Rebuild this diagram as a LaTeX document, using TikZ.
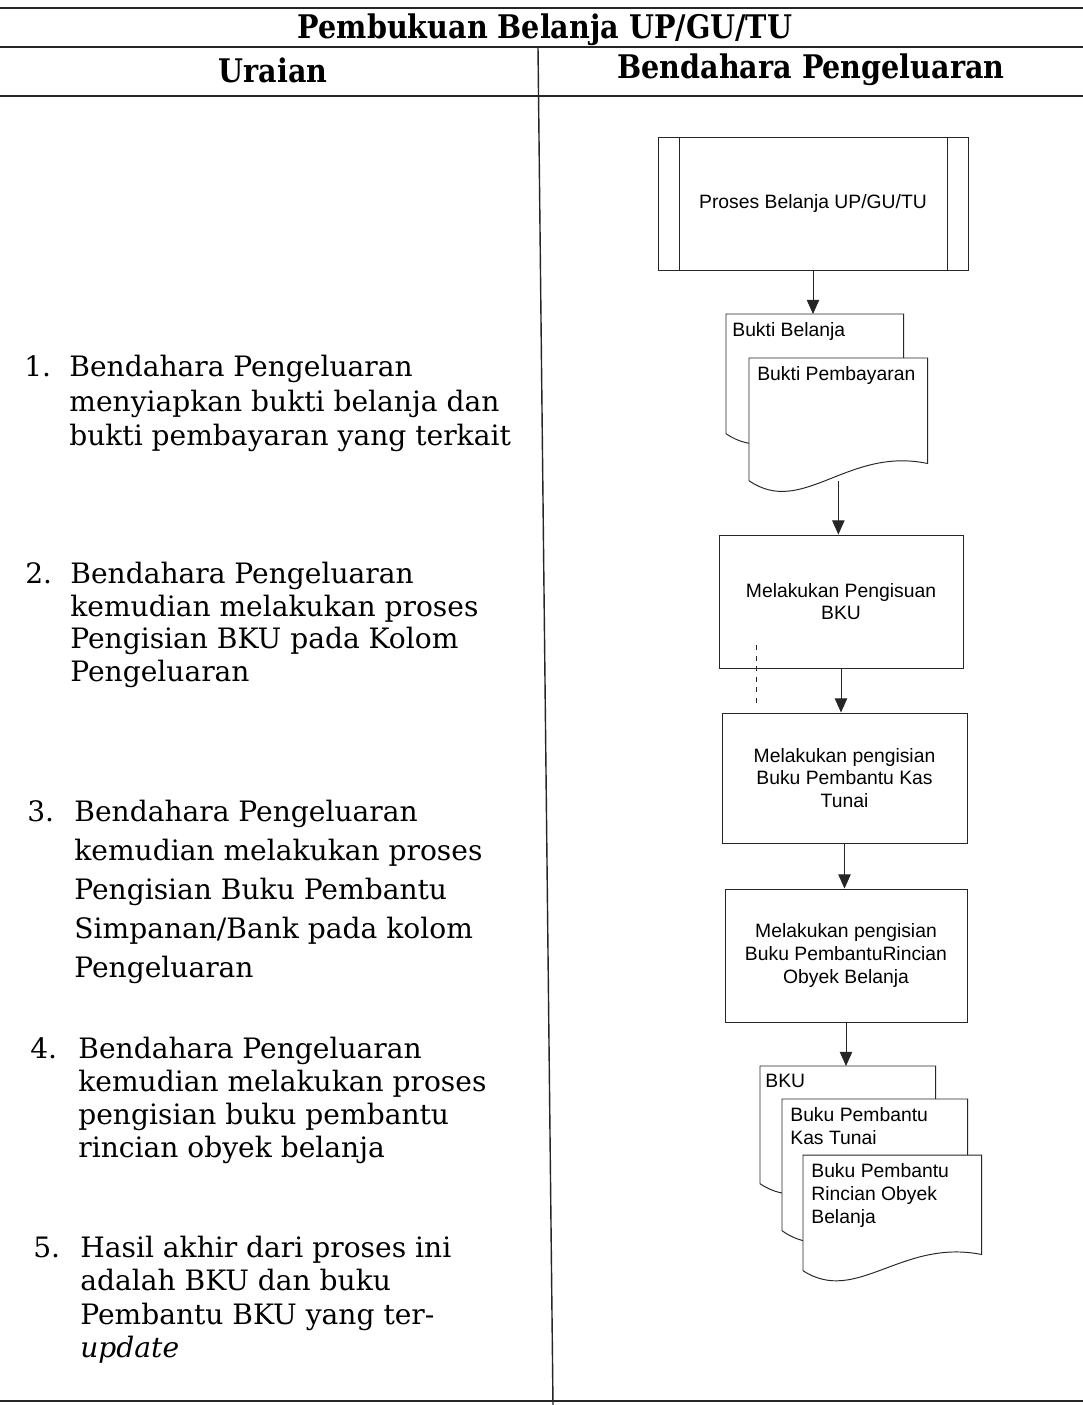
\documentclass[tikz,border=0pt]{standalone}
\usepackage{fontspec}
\setmainfont{DejaVu Serif}
\newfontfamily\hdrfont{DejaVu Serif}[FakeStretch=0.88]
\newfontfamily\chartfont{Liberation Sans}
\usetikzlibrary{arrows.meta,calc}

\tikzset{
  rule/.style={line width=1.1pt, black!85},
  divider/.style={line width=0.8pt, black!85},
  hdr/.style={inner sep=0, font=\hdrfont\bfseries\fontsize{18.5}{22}\selectfont},
  itemnum/.style={anchor=base west, inner sep=0, font=\fontsize{16}{19}\selectfont},
  itemtext/.style={anchor=north west, inner sep=0, align=left},
  chart/.style={draw=black!85, line width=0.55pt},
  chartfontstyle/.style={font=\chartfont\fontsize{11}{13}\selectfont},
  procbox/.style={chart, fill=white, minimum width=6.2cm, minimum height=2.66cm, inner sep=0, chartfontstyle},
  actbox/.style={chart, fill=white, inner sep=0, align=center, chartfontstyle},
  docframe/.style={anchor=north west, inner sep=0, draw=none},
  docline/.style={chart, fill=white},
  doclabel/.style={anchor=north west, inner sep=0, align=left, chartfontstyle},
  arr/.style={chart, -{Triangle[length=8pt,width=7pt]}},
}

% document symbol: rectangle with a wavy lower edge, drawn on a named frame node
\newcommand\docshape[1]{%
  \path[docline] let \p1=(#1.north west), \p2=(#1.south east),
      \n1={\x2-\x1}, \n2={\y1-\y2} in
    (\x1,\y1) -- (\x2,\y1) -- (\x2,{\y2+0.14*\n2})
    .. controls ({\x1+0.55*\n1},{\y2+0.28*\n2}) and ({\x1+0.3*\n1},{\y2-0.3*\n2}) .. (\x1,\y2)
    -- cycle;}

\begin{document}
\begin{tikzpicture}
\fill[white] (0,0) rectangle (21.66,-28.1);
\useasboundingbox (0,0) rectangle (21.66,-28.1);

% table rules
\draw[rule] (0,-0.16) -- (21.66,-0.16);
\draw[rule] (0,-0.94) -- (21.66,-0.94);
\draw[rule] (0,-1.92) -- (21.66,-1.92);
\draw[rule] (0,-28.02) -- (21.66,-28.02);
\draw[divider] (10.76,-0.94) -- (11.06,-28.1);

% headings
\node[hdr] (title) at (10.9,-0.6) {Pembukuan Belanja UP/GU/TU};
\node[hdr] (colA) at (5.46,-1.41) {Uraian};
\node[hdr] (colB) at (16.22,-1.39) {Bendahara Pengeluaran};

% description column
\node[itemnum] (n1) at (0.48,-7.52) {1.};
\node[itemtext, font=\fontsize{16}{19.8}\selectfont] (t1) at (1.38,-7.09)
  {Bendahara Pengeluaran\\menyiapkan bukti belanja dan\\bukti pembayaran yang terkait};

\node[itemnum] (n2) at (0.50,-11.66) {2.};
\node[itemtext, font=\fontsize{16}{18.7}\selectfont] (t2) at (1.40,-11.23)
  {Bendahara Pengeluaran\\kemudian melakukan proses\\Pengisian BKU pada Kolom\\Pengeluaran};

\node[itemnum] (n3) at (0.54,-16.42) {3.};
\node[itemtext, font=\fontsize{16}{22.3}\selectfont] (t3) at (1.48,-15.99)
  {Bendahara Pengeluaran\\kemudian melakukan proses\\Pengisian Buku Pembantu\\Simpanan/Bank pada kolom\\Pengeluaran};

\node[itemnum] (n4) at (0.60,-21.16) {4.};
\node[itemtext, font=\fontsize{16}{18.9}\selectfont] (t4) at (1.56,-20.73)
  {Bendahara Pengeluaran\\kemudian melakukan proses\\pengisian buku pembantu\\rincian obyek belanja};

\node[itemnum] (n5) at (0.66,-25.14) {5.};
\node[itemtext, font=\fontsize{16}{19.1}\selectfont] (t5) at (1.60,-24.71)
  {Hasil akhir dari proses ini\\adalah BKU dan buku\\Pembantu BKU yang ter-\\\textit{update}};

% flowchart column
\node[procbox] (proc) at (16.26,-4.07) {Proses Belanja UP/GU/TU};
\draw[chart] ([xshift=0.44cm]proc.north west) -- ([xshift=0.44cm]proc.south west);
\draw[chart] ([xshift=-0.42cm]proc.north east) -- ([xshift=-0.42cm]proc.south east);

\node[docframe, minimum width=3.54cm, minimum height=2.38cm] (d1) at (14.52,-6.28) {};
\docshape{d1}
\node[doclabel] (d1t) at ([xshift=0.12cm,yshift=-0.16cm]d1.north west) {Bukti Belanja};
\node[docframe, minimum width=3.56cm, minimum height=2.44cm] (d2) at (14.98,-7.16) {};
\docshape{d2}
\node[doclabel] (d2t) at ([xshift=0.16cm,yshift=-0.16cm]d2.north west) {Bukti Pembayaran};

\node[actbox, minimum width=4.88cm, minimum height=2.66cm] (b1) at (16.82,-12.03)
  {Melakukan Pengisuan\\BKU};
\node[actbox, minimum width=4.9cm, minimum height=2.6cm] (b2) at (16.89,-15.56)
  {Melakukan pengisian\\Buku Pembantu Kas\\Tunai};
\node[actbox, minimum width=4.84cm, minimum height=2.66cm] (b3) at (16.92,-19.11)
  {Melakukan pengisian\\Buku PembantuRincian\\Obyek Belanja};

\node[docframe, minimum width=3.5cm, minimum height=2.34cm] (d3) at (15.2,-21.32) {};
\docshape{d3}
\node[doclabel] (d3t) at ([xshift=0.1cm,yshift=-0.16cm]d3.north west) {BKU};
\node[docframe, minimum width=3.7cm, minimum height=2.62cm] (d4) at (15.64,-21.98) {};
\docshape{d4}
\node[doclabel] (d4t) at ([xshift=0.16cm,yshift=-0.16cm]d4.north west) {Buku Pembantu\\Kas Tunai};
\node[docframe, minimum width=3.56cm, minimum height=2.3cm] (d5) at (16.06,-23.1) {};
\docshape{d5}
\node[doclabel] (d5t) at ([xshift=0.16cm,yshift=-0.16cm]d5.north west) {Buku Pembantu\\Rincian Obyek\\Belanja};

% dashed guide between the first two activity boxes
\coordinate (g1) at (15.12,-12.9);
\coordinate (g2) at (15.12,-14.1);
\draw[chart, dashed] (g1) -- (g2);

% flow
\draw[arr] (proc.south) -- (proc.south |- d1.north);
\draw[arr] (d2.south) -- (d2.south |- b1.north);
\draw[arr] (b1.south) -- (b1.south |- b2.north);
\draw[arr] (b2.south) -- (b2.south |- b3.north);
\draw[arr] (b3.south) -- (b3.south |- d3.north);
\end{tikzpicture}
\end{document}
